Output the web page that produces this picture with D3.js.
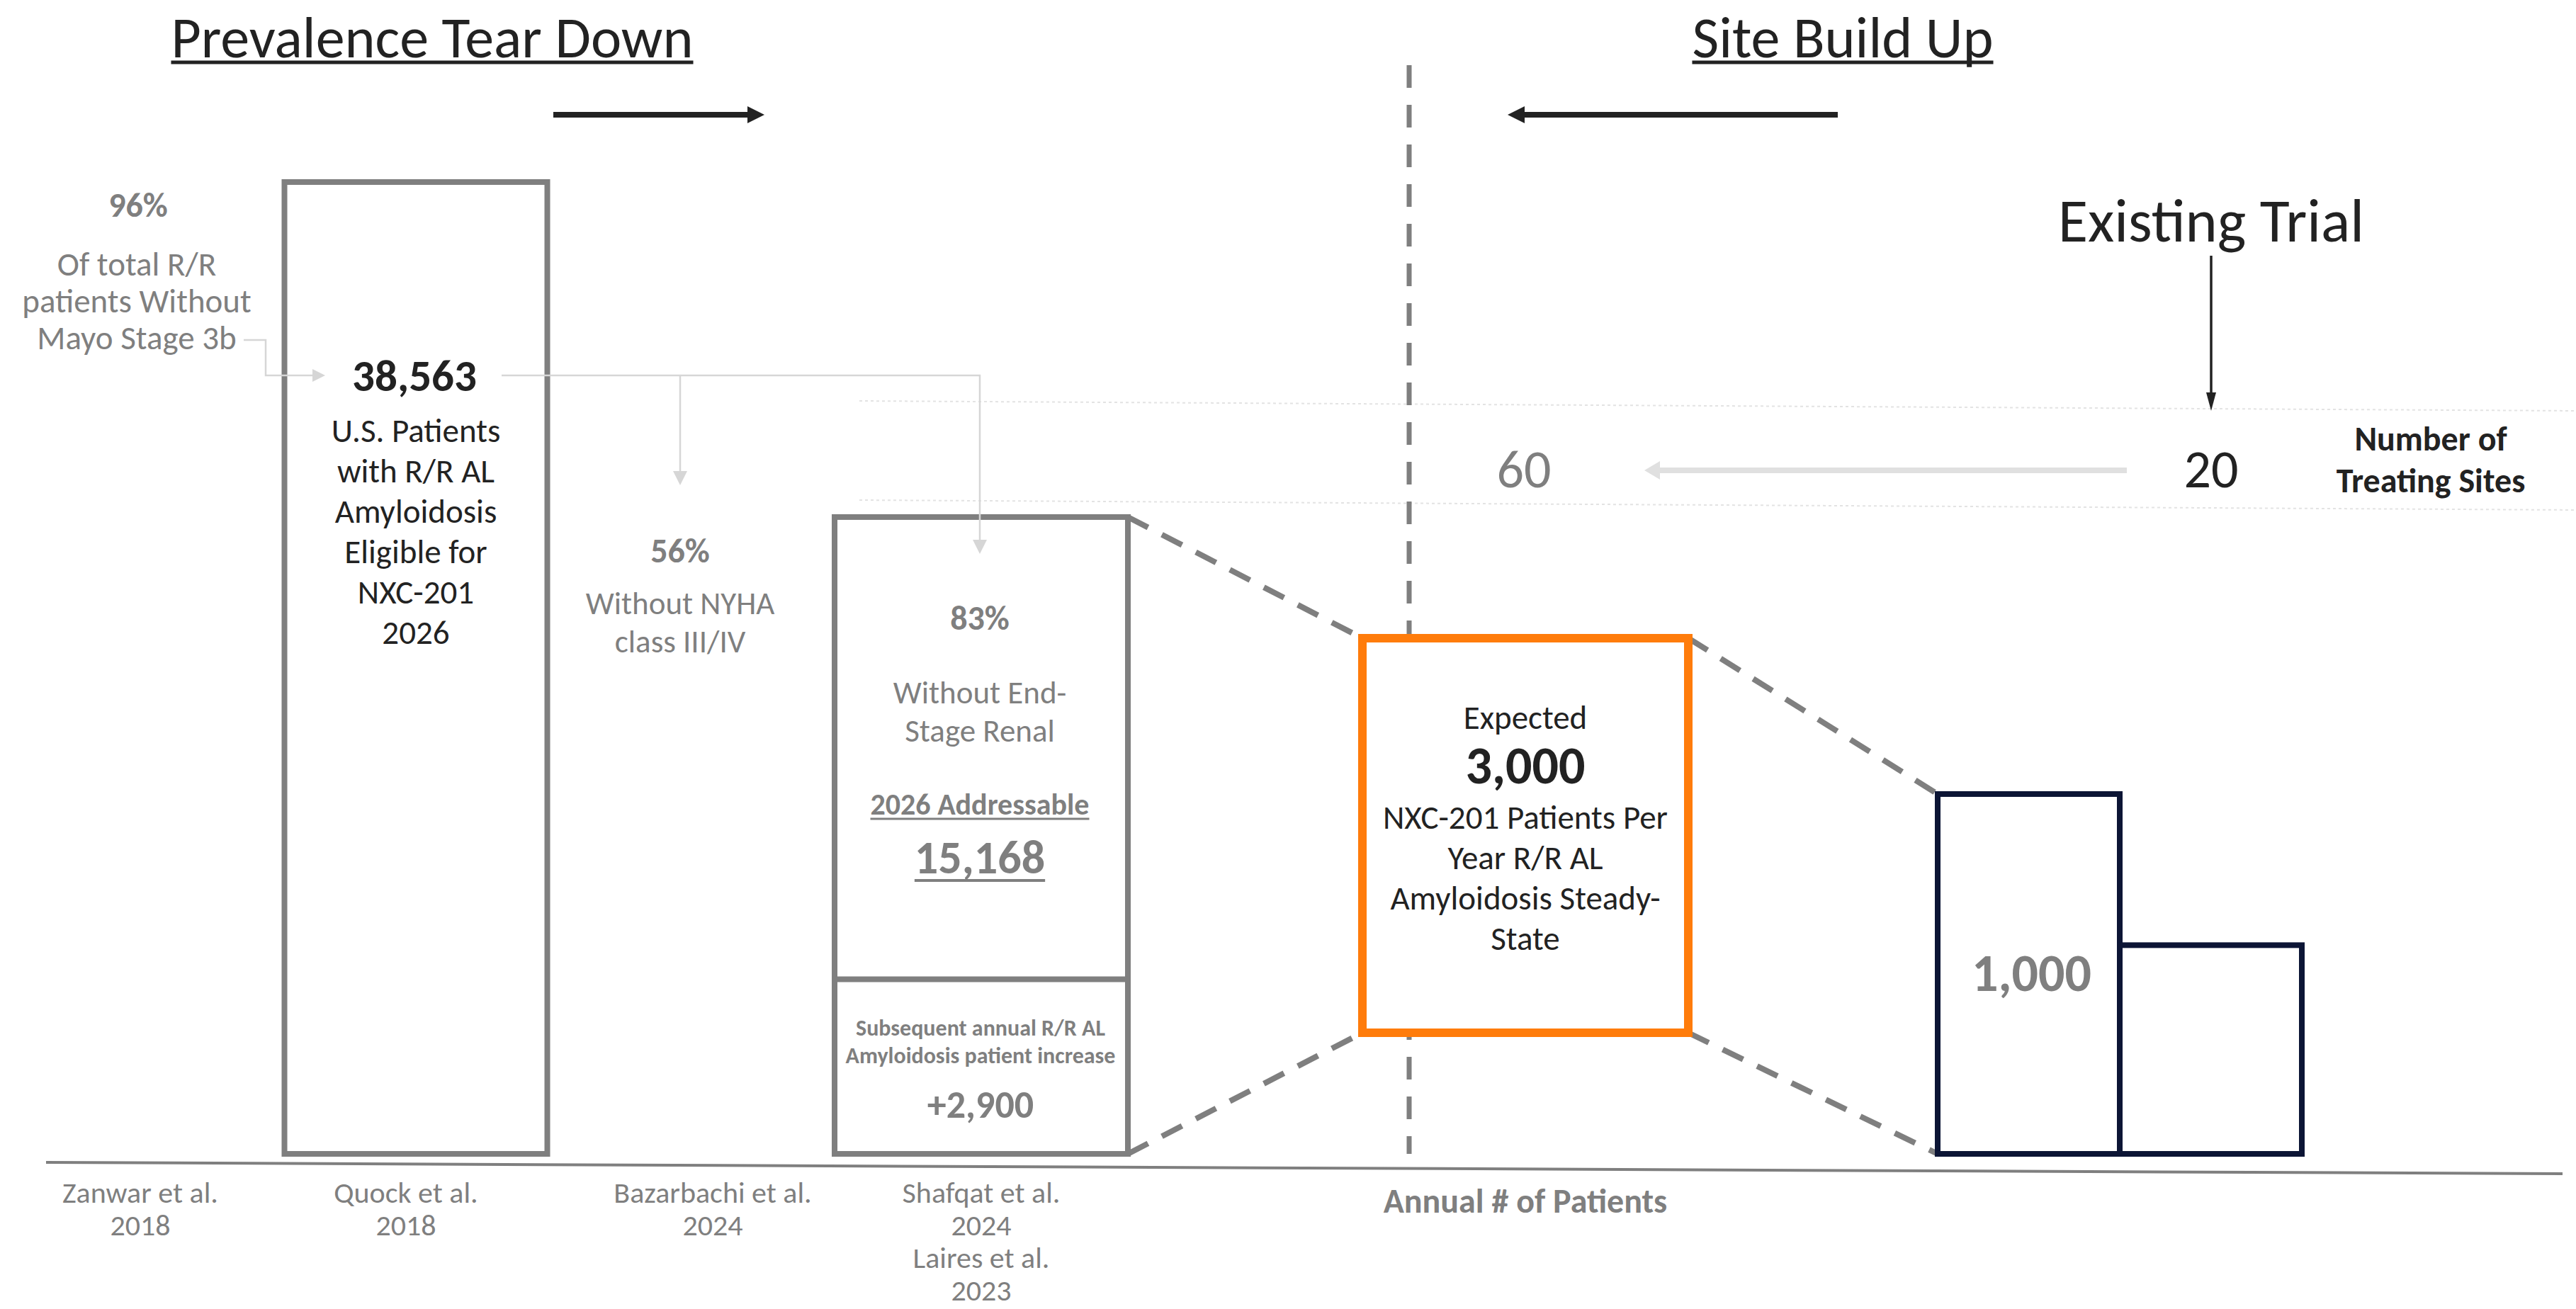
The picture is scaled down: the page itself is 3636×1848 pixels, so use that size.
<!DOCTYPE html>
<html>
<head>
<meta charset="utf-8">
<script src="https://cdn.jsdelivr.net/npm/d3@7"></script>
<style>
  body { margin: 0; background: #fff; }
  text { font-family: Carlito, Lato, sans-serif; }
</style>
</head>
<body>
<div id="chart"></div>
<script>
var width = 3636, height = 1848;

// ---- data ----
var stageKeys = ["zanwar", "quock", "bazarbachi", "shafqat"];
var sourceLabels = [["Zanwar et al.", "2018"], ["Quock et al.", "2018"], ["Bazarbachi et al.", "2024"], ["Shafqat et al.", "2024", "Laires et al.", "2023"]];
var filterPct = ["96%", null, "56%", "83%"];
var filterText = [["Of total R/R", "patients Without", "Mayo Stage 3b"], null, ["Without NYHA", "class III/IV"], ["Without End-", "Stage Renal"]];
var eligible2026 = 38563;
var addressable2026 = 15168;
var annualIncrease = 2900;
var steadyStatePatients = 3000;
var siteKeys = ["steady", "existing"];
var siteCounts = [60, 20];
var sitePatients = [1000, 580];

var gray = "#7f7f7f", dark = "#222222", light = "#d6d6d6", orange = "#ff7c0b", navy = "#0c1535";
var fmt = d3.format(",");

var svg = d3.select("#chart").append("svg")
    .attr("width", width)
    .attr("height", height);

// ---- scales ----
var baseY = 1629;
var x = d3.scalePoint().domain(stageKeys).range([188, 1385]);
// schematic (not to scale) height scale for the tear-down boxes
var h = d3.scalePow().exponent(0.45).domain([670, eligible2026]).range([0, 1372]);
var xs = d3.scalePoint().domain(siteKeys).range([2153, 3121]);
var hs = d3.scaleLinear().domain([0, 1000]).range([0, 508]);
var navyX = d3.scaleBand().domain(d3.range(sitePatients.length))
    .range([xs("existing") - 386, xs("existing") + 128]);

function label(x0, y0, lines, size, opts) {
  opts = opts || {};
  var lh = opts.lh || size * 1.2;
  var t = svg.append("text")
      .attr("x", x0).attr("y", y0)
      .attr("text-anchor", opts.anchor || "middle")
      .attr("font-size", size)
      .attr("font-weight", opts.bold ? 700 : 400)
      .attr("fill", opts.color || dark);
  lines.forEach(function(s, i) {
    t.append("tspan").attr("x", x0).attr("dy", i ? lh : 0).text(s);
  });
  if (opts.underline) {
    var b = t.node().getBBox();
    svg.append("line")
      .attr("x1", b.x).attr("x2", b.x + b.width)
      .attr("y1", y0 + opts.underline[0]).attr("y2", y0 + opts.underline[0])
      .attr("stroke", opts.color || dark).attr("stroke-width", opts.underline[1]);
  }
  return t;
}

function arrow(pts, color, w, headL, headW) {
  var n = pts.length, a = pts[n - 2], b = pts[n - 1];
  var dx = b[0] - a[0], dy = b[1] - a[1], len = Math.sqrt(dx * dx + dy * dy);
  var ux = dx / len, uy = dy / len;
  var base = [b[0] - ux * headL, b[1] - uy * headL];
  var line = pts.slice(0, n - 1).concat([base]);
  svg.append("path").attr("d", d3.line()(line))
    .attr("fill", "none").attr("stroke", color).attr("stroke-width", w);
  svg.append("path")
    .attr("d", d3.line()([b, [base[0] - uy * headW / 2, base[1] + ux * headW / 2], [base[0] + uy * headW / 2, base[1] - ux * headW / 2]]) + "Z")
    .attr("fill", color);
}

// ---- faint guide lines + axis ----
svg.append("line").attr("x1", 1213).attr("y1", 566).attr("x2", width).attr("y2", 580)
  .attr("stroke", "#e3e3e3").attr("stroke-width", 2).attr("stroke-dasharray", "4,4");
svg.append("line").attr("x1", 1213).attr("y1", 706).attr("x2", width).attr("y2", 720)
  .attr("stroke", "#e3e3e3").attr("stroke-width", 2).attr("stroke-dasharray", "4,4");
svg.append("line").attr("x1", 65).attr("y1", 1641).attr("x2", 3617).attr("y2", 1657)
  .attr("stroke", gray).attr("stroke-width", 4);

// vertical divider
svg.append("line").attr("x1", 1989).attr("x2", 1989).attr("y1", 92).attr("y2", baseY)
  .attr("stroke", gray).attr("stroke-width", 7).attr("stroke-dasharray", "32,24");

// ---- titles ----
label(610, 81, ["Prevalence Tear Down"], 82, {underline: [7, 5]});
label(2601, 81, ["Site Build Up"], 82, {underline: [7, 5]});
arrow([[781, 162], [1079, 162]], dark, 8, 24, 24);
arrow([[2594, 162], [2128, 162]], dark, 8, 24, 24);

// ---- tear-down boxes ----
var b1w = 371, b2w = 414;
var b1 = {x0: x("quock") - b1w / 2, x1: x("quock") + b1w / 2, top: baseY - h(eligible2026)};
var b2 = {x0: x("shafqat") - b2w / 2, x1: x("shafqat") + b2w / 2,
          top: baseY - h(addressable2026 + annualIncrease), mid: baseY - h(annualIncrease)};

// dashed zoom connectors
var ob = {x0: 1923, x1: 2383, top: 901, bot: 1458};
var nTop = baseY - hs(sitePatients[0]);
[[[b2.x1, b2.top], [ob.x0, ob.top]], [[b2.x1, baseY], [ob.x0, ob.bot]],
 [[ob.x1, ob.top], [navyX(0), nTop]], [[ob.x1, ob.bot], [navyX(0), baseY]]].forEach(function(p) {
  svg.append("path").attr("d", d3.line()(p)).attr("stroke", gray)
    .attr("stroke-width", 8).attr("stroke-dasharray", "32,22").attr("fill", "none");
});

svg.append("rect").attr("x", b1.x0).attr("y", b1.top).attr("width", b1w).attr("height", baseY - b1.top)
  .attr("fill", "#fff").attr("stroke", gray).attr("stroke-width", 8);
svg.append("rect").attr("x", b2.x0).attr("y", b2.top).attr("width", b2w).attr("height", baseY - b2.top)
  .attr("fill", "#fff").attr("stroke", gray).attr("stroke-width", 8);
svg.append("line").attr("x1", b2.x0).attr("x2", b2.x1).attr("y1", b2.mid).attr("y2", b2.mid)
  .attr("stroke", gray).attr("stroke-width", 8);

// connectors from 38,563
arrow([[344, 480], [375, 480], [375, 530], [459, 530]], light, 2.5, 18, 18);
arrow([[708, 530], [1383, 530], [1383, 782]], light, 2.5, 20, 20);
arrow([[x("bazarbachi") - 26, 530], [x("bazarbachi") - 26, 685]], light, 2.5, 20, 20);

// filter percentages + descriptions
label(195, 306, [filterPct[0]], 48, {bold: true, color: gray});
label(193, 389, filterText[0], 47, {color: gray, lh: 52});
label(960, 794, [filterPct[2]], 48, {bold: true, color: gray});
label(960, 867, filterText[2], 45, {color: gray, lh: 54});
label(x("shafqat") - 2, 889, [filterPct[3]], 48, {bold: true, color: gray});
label(x("shafqat") - 2, 993, filterText[3], 45, {color: gray, lh: 54});

// box 1 text
label(x("quock") - 2, 552, [fmt(eligible2026)], 63, {bold: true});
label(x("quock"), 624, ["U.S. Patients", "with R/R AL", "Amyloidosis", "Eligible for", "NXC-201", "2026"], 47, {lh: 57});

// box 2 text
label(x("shafqat") - 2, 1150, ["2026 Addressable"], 42, {bold: true, color: gray, underline: [6, 3]});
label(x("shafqat") - 2, 1233, [fmt(addressable2026)], 66, {bold: true, color: gray, underline: [10, 4]});
label(x("shafqat") - 1, 1462, ["Subsequent annual R/R AL", "Amyloidosis patient increase"], 32, {bold: true, color: gray, lh: 39});
label(x("shafqat") - 1, 1578, ["+" + fmt(annualIncrease)], 54, {bold: true, color: gray});

// ---- steady-state callout ----
svg.append("rect").attr("x", ob.x0).attr("y", ob.top).attr("width", ob.x1 - ob.x0).attr("height", ob.bot - ob.top)
  .attr("fill", "#fff").attr("stroke", orange).attr("stroke-width", 12);
label(xs("steady"), 1029, ["Expected"], 47);
label(xs("steady"), 1106, [fmt(steadyStatePatients)], 74, {bold: true});
label(xs("steady"), 1170, ["NXC-201 Patients Per", "Year R/R AL", "Amyloidosis Steady-", "State"], 47, {lh: 57});

// ---- site bars ----
svg.selectAll("rect.site").data(sitePatients).enter().append("rect")
  .attr("class", "site")
  .attr("x", function(d, i) { return navyX(i); })
  .attr("y", function(d) { return baseY - hs(d); })
  .attr("width", navyX.bandwidth())
  .attr("height", function(d) { return hs(d); })
  .attr("fill", "#fff").attr("stroke", navy).attr("stroke-width", 8);
label(navyX(0) + navyX.bandwidth() / 2 + 4, 1399, [fmt(sitePatients[0])], 74, {bold: true, color: gray});

// ---- treating sites ----
label(xs("existing"), 341, ["Existing Trial"], 86);
arrow([[xs("existing"), 361], [xs("existing"), 580]], dark, 3.5, 26, 14);
label(xs("steady") - 2, 688, [String(siteCounts[0])], 76, {color: gray});
label(xs("existing"), 688, [String(siteCounts[1])], 76);
arrow([[3002, 664], [2321, 664]], "#e0e0e0", 8, 22, 26);
label(3431, 636, ["Number of", "Treating Sites"], 48, {bold: true, lh: 59});

// ---- sources ----
var srcShift = [10, -14, 20, 0];
sourceLabels.forEach(function(s, i) {
  label(x(stageKeys[i]) + srcShift[i], 1698, s, 42, {color: gray, lh: 46});
});
label(xs("steady"), 1712, ["Annual # of Patients"], 48, {bold: true, color: gray});
</script>
</body>
</html>
